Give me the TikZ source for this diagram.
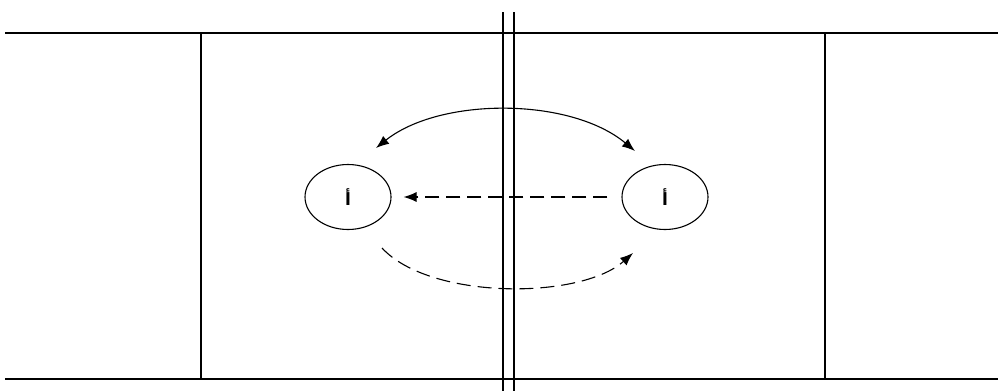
\documentclass[tikz,border=0pt]{standalone}
\usepackage{fontspec}
\usetikzlibrary{shapes.geometric,arrows.meta,positioning}
\newfontfamily\arabicfont[Script=Arabic]{DejaVu Sans}
\TeXXeTstate=1

\begin{document}
\begin{tikzpicture}[
    x=1pt, y=-1pt,
    courtline/.style={line width=1.4pt, black},
    netline/.style={line width=1.5pt, black},
    playerc/.style={ellipse, draw, line width=1.1pt, minimum width=86pt, minimum height=65pt, inner sep=0pt, font=\arabicfont\bfseries\fontsize{17}{17}\selectfont},
    solidarrow/.style={line width=1.1pt, {Latex[length=13pt,width=10pt]}-{Latex[length=13pt,width=10pt]}},
    dasharrow/.style={line width=1.1pt, dash pattern=on 14pt off 7pt, -{Latex[length=13pt,width=10pt]}}
]
    \useasboundingbox (0,0) rectangle (998,391);

    % court
    \draw[courtline] (5,33) -- (998,33);
    \draw[courtline] (5,379) -- (998,379);
    \draw[courtline] (201,33) -- (201,379);
    \draw[courtline] (825,33) -- (825,379);
    \draw[netline] (503,12) -- (503,391);
    \draw[netline] (514,12) -- (514,391);

    % players
    \node[playerc] (leftp) at (348,197) {\beginR أ\endR};
    \node[playerc] (rightp) at (665,197) {\beginR أ\endR};

    \coordinate (ltop) at (376,148);
    \coordinate (rtop) at (635,151);
    \coordinate (lbot) at (382,248);
    \coordinate (rbot) at (633,253);

    % moves
    \draw[solidarrow] (ltop) .. controls (440,97) and (570,97) .. (rtop);
    \draw[dasharrow, shorten <=14pt, shorten >=12pt] (rightp.west) -- (leftp.east);
    \draw[dasharrow] (lbot) .. controls (430,300) and (580,300) .. (rbot);
\end{tikzpicture}
\end{document}
